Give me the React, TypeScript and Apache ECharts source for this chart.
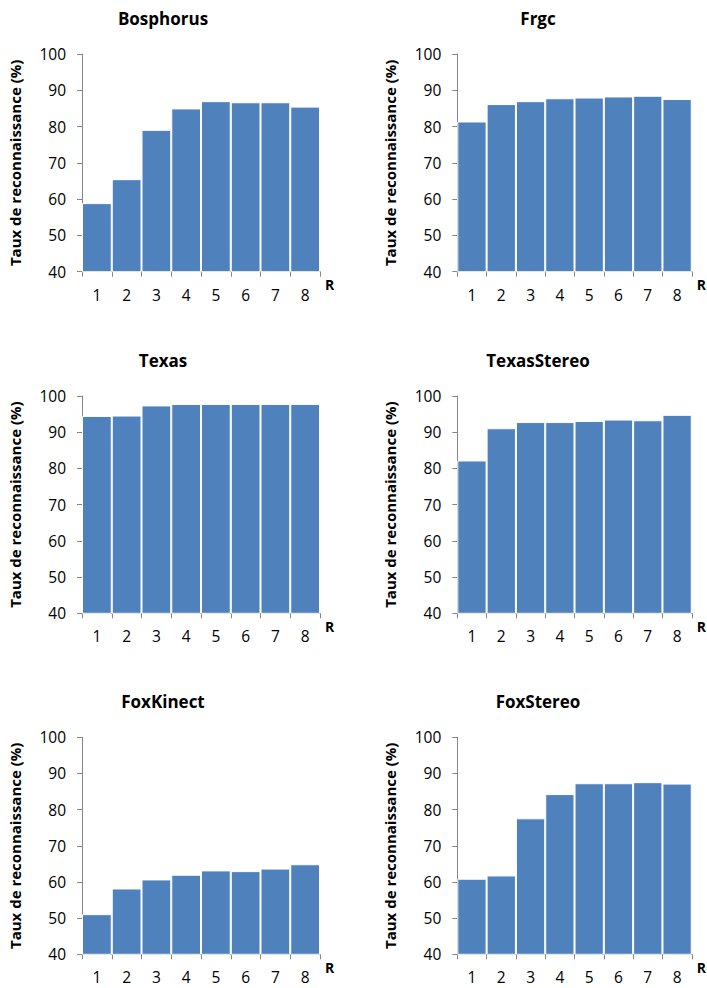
import React, { useEffect, useRef } from "react";
import * as echarts from "echarts";

const categories = ["1", "2", "3", "4", "5", "6", "7", "8"];
const yTicks = { min: 40, max: 100, interval: 10 };

const bosphorus = [58.9, 65.5, 79.1, 85.0, 87.0, 86.7, 86.7, 85.5];
const frgc = [81.4, 86.2, 87.0, 87.8, 88.0, 88.3, 88.5, 87.6];
const texas = [94.5, 94.6, 97.4, 97.8, 97.8, 97.8, 97.8, 97.8];
const texasStereo = [82.2, 91.1, 92.8, 92.8, 93.1, 93.5, 93.3, 94.8];
const foxKinect = [51.1, 58.2, 60.7, 62.0, 63.2, 63.0, 63.7, 64.9];
const foxStereo = [60.9, 61.8, 77.6, 84.3, 87.3, 87.3, 87.6, 87.2];

const panelTitles = ["Bosphorus", "Frgc", "Texas", "TexasStereo", "FoxKinect", "FoxStereo"];
const panelData = [bosphorus, frgc, texas, texasStereo, foxKinect, foxStereo];
const yName = "Taux de reconnaissance (%)";
const xName = "R";

const FONT = "'Open Sans', 'DejaVu Sans', sans-serif";
const AXIS_COLOR = "#868686";
const TEXT_COLOR = "#000000";
const BAR_COLOR = "#4F81BD";

const layout = [
  { left: 82, top: 54, width: 238, height: 217.7, titleX: 163, titleY: 18 },
  { left: 457.3, top: 54, width: 237.4, height: 217.7, titleX: 538, titleY: 18 },
  { left: 82, top: 396, width: 238, height: 217.3, titleX: 163, titleY: 360 },
  { left: 457.3, top: 396, width: 237.4, height: 217.3, titleX: 538, titleY: 360 },
  { left: 82, top: 737.3, width: 238, height: 217, titleX: 163, titleY: 701.7 },
  { left: 457.3, top: 737.3, width: 237.4, height: 217, titleX: 538, titleY: 701.7 },
];

export default function App() {
  const ref = useRef<HTMLDivElement>(null);
  useEffect(() => {
    if (!ref.current) return;
    const chart = echarts.init(ref.current, undefined, { renderer: "svg" });
    const grids = layout.map((l) => ({
      left: l.left,
      top: l.top,
      width: l.width,
      height: l.height,
      containLabel: false,
    }));
    const xAxes = layout.map((_, i) => ({
      type: "category",
      gridIndex: i,
      data: categories,
      boundaryGap: true,
      name: xName,
      nameLocation: "end",
      nameGap: 5,
      nameTextStyle: {
        fontFamily: FONT,
        fontWeight: "bold",
        fontSize: 14,
        color: TEXT_COLOR,
        verticalAlign: "top",
        padding: [6, 0, 0, 0],
      },
      axisLine: { show: true, lineStyle: { color: AXIS_COLOR, width: 1 } },
      axisTick: { show: true, inside: false, length: 5, alignWithLabel: false, lineStyle: { color: AXIS_COLOR } },
      axisLabel: { fontFamily: FONT, fontSize: 15.5, color: TEXT_COLOR, margin: 15 },
      splitLine: { show: false },
    }));
    const yAxes = layout.map((_, i) => ({
      type: "value",
      gridIndex: i,
      min: yTicks.min,
      max: yTicks.max,
      interval: yTicks.interval,
      name: yName,
      nameLocation: "middle",
      nameRotate: 90,
      nameGap: 60,
      nameTextStyle: { fontFamily: FONT, fontWeight: "bold", fontSize: 15, color: TEXT_COLOR },
      axisLine: { show: true, lineStyle: { color: AXIS_COLOR, width: 1 } },
      axisTick: { show: true, inside: false, length: 5, lineStyle: { color: AXIS_COLOR } },
      axisLabel: { fontFamily: FONT, fontSize: 15.5, color: TEXT_COLOR, margin: 16 },
      splitLine: { show: false },
    }));
    const series = panelData.map((d, i) => ({
      type: "bar",
      xAxisIndex: i,
      yAxisIndex: i,
      data: d,
      barCategoryGap: "0%",
      itemStyle: { color: BAR_COLOR, borderColor: "#ffffff", borderWidth: 1 },
    }));
    const graphic = layout.map((l, i) => ({
      type: "text",
      x: l.titleX,
      y: l.titleY,
      style: {
        text: panelTitles[i],
        fontFamily: FONT,
        fontWeight: "bold",
        fontSize: 17,
        fill: TEXT_COLOR,
        align: "center",
        verticalAlign: "middle",
      },
    }));
    chart.setOption({
      animation: false,
      backgroundColor: "#ffffff",
      grid: grids,
      xAxis: xAxes,
      yAxis: yAxes,
      series,
      graphic,
    });
    return () => chart.dispose();
  }, []);
  return (
    <div
      ref={ref}
      style={{ position: "fixed", left: 0, top: 0, width: 707, height: 988 }}
    />
  );
}
